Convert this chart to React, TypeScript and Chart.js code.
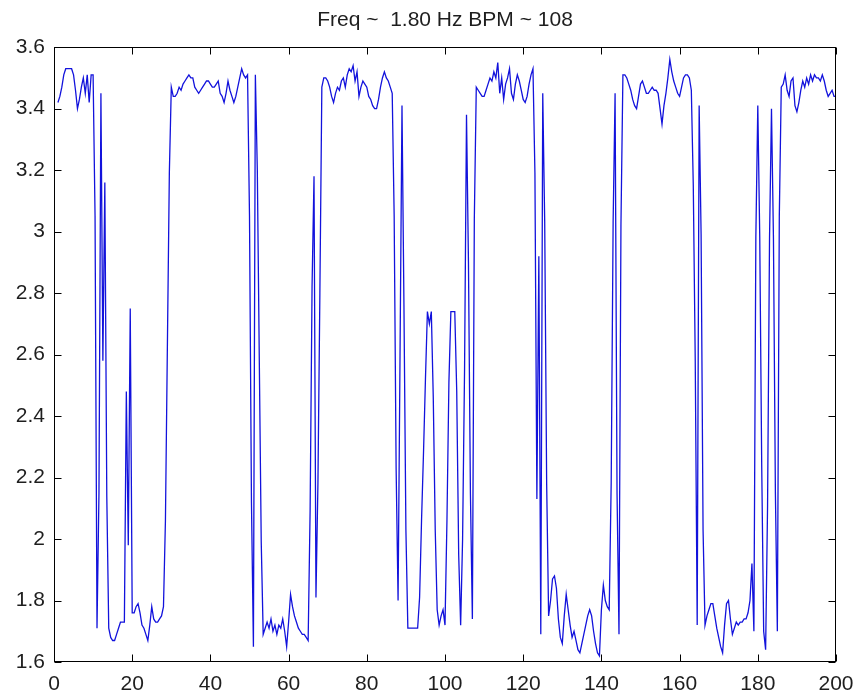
import React, { useEffect, useRef } from 'react';
import { Chart, registerables } from 'chart.js';

Chart.register(...registerables);

const TITLE = 'Freq ~  1.80 Hz BPM ~ 108';
const X_TICKS = [0, 20, 40, 60, 80, 100, 120, 140, 160, 180, 200];
const Y_TICKS = [1.6, 1.8, 2.0, 2.2, 2.4, 2.6, 2.8, 3.0, 3.2, 3.4, 3.6];

// samples start at x = 1 and are spaced 0.5 apart
const X_START = 1;
const X_STEP = 0.5;

const block1 = [
  3.42, 3.44, 3.47, 3.51, 3.53, 3.53, 3.53, 3.53, 3.51, 3.46,
  3.40, 3.43, 3.47, 3.50, 3.45, 3.51, 3.42, 3.51, 3.51, 3.05,
  1.71, 2.15, 3.45, 2.58, 3.16, 2.14, 1.71, 1.68, 1.67, 1.67,
  1.69, 1.71, 1.73, 1.73, 1.73, 2.48, 1.98, 2.75, 1.76, 1.76,
];
const block2 = [
  1.78, 1.79, 1.76, 1.72, 1.71, 1.69, 1.67, 1.72, 1.78, 1.74,
  1.73, 1.73, 1.74, 1.75, 1.78, 2.06, 2.63, 3.19, 3.47, 3.44,
  3.44, 3.45, 3.47, 3.46, 3.48, 3.49, 3.50, 3.51, 3.50, 3.50,
  3.47, 3.46, 3.45, 3.46, 3.47, 3.48, 3.49, 3.49, 3.48, 3.47,
];
const block3 = [
  3.47, 3.48, 3.49, 3.45, 3.44, 3.42, 3.45, 3.49, 3.46, 3.44,
  3.42, 3.44, 3.47, 3.50, 3.53, 3.51, 3.50, 3.51, 3.05, 2.12,
  1.65, 3.51, 3.20, 2.59, 1.99, 1.69, 1.71, 1.73, 1.71, 1.74,
  1.70, 1.72, 1.69, 1.72, 1.71, 1.74, 1.70, 1.65, 1.73, 1.82,
];
const block4 = [
  1.78, 1.75, 1.73, 1.71, 1.70, 1.69, 1.69, 1.68, 1.67, 2.09,
  2.82, 3.18, 1.81, 2.18, 2.80, 3.47, 3.50, 3.50, 3.49, 3.47,
  3.44, 3.42, 3.45, 3.47, 3.46, 3.49, 3.50, 3.47, 3.51, 3.53,
  3.52, 3.54, 3.49, 3.52, 3.44, 3.47, 3.49, 3.48, 3.47, 3.44,
];
const block5 = [
  3.43, 3.41, 3.40, 3.40, 3.43, 3.47, 3.50, 3.52, 3.50, 3.49,
  3.47, 3.45, 3.05, 2.23, 1.80, 2.60, 3.41, 2.76, 2.03, 1.71,
  1.71, 1.71, 1.71, 1.71, 1.71, 1.81, 2.06, 2.28, 2.52, 2.74,
  2.70, 2.74, 2.46, 2.03, 1.77, 1.72, 1.75, 1.77, 1.72, 2.06,
];
const block6 = [
  2.51, 2.74, 2.74, 2.74, 2.48, 1.95, 1.72, 2.00, 2.55, 3.38,
  2.90, 2.15, 1.74, 3.04, 3.47, 3.46, 3.45, 3.44, 3.44, 3.46,
  3.48, 3.50, 3.49, 3.52, 3.50, 3.55, 3.45, 3.50, 3.43, 3.48,
  3.50, 3.53, 3.45, 3.43, 3.48, 3.51, 3.49, 3.46, 3.43, 3.42,
];
const block7 = [
  3.44, 3.48, 3.51, 3.53, 3.19, 2.13, 2.92, 1.69, 3.45, 3.03,
  2.18, 1.75, 1.80, 1.87, 1.88, 1.84, 1.74, 1.68, 1.66, 1.75,
  1.82, 1.77, 1.72, 1.68, 1.70, 1.67, 1.64, 1.63, 1.66, 1.69,
  1.72, 1.75, 1.77, 1.75, 1.70, 1.66, 1.63, 1.62, 1.77, 1.85,
];
const block8 = [
  1.80, 1.78, 1.77, 2.18, 3.03, 3.45, 2.15, 1.69, 3.02, 3.51,
  3.51, 3.50, 3.48, 3.46, 3.43, 3.41, 3.40, 3.44, 3.48, 3.49,
  3.47, 3.45, 3.45, 3.46, 3.47, 3.46, 3.46, 3.45, 3.40, 3.35,
  3.41, 3.45, 3.50, 3.56, 3.52, 3.49, 3.47, 3.45, 3.44, 3.47,
];
const block9 = [
  3.50, 3.51, 3.51, 3.50, 3.46, 3.15, 2.58, 1.72, 3.41, 2.99,
  2.03, 1.72, 1.75, 1.77, 1.79, 1.79, 1.75, 1.71, 1.68, 1.65,
  1.63, 1.72, 1.79, 1.80, 1.74, 1.69, 1.71, 1.73, 1.72, 1.73,
  1.73, 1.74, 1.74, 1.76, 1.80, 1.92, 1.70, 2.98, 3.41, 2.98,
];
const block10 = [
  2.24, 1.70, 1.64, 2.11, 2.98, 3.40, 2.98, 2.15, 1.70, 3.05,
  3.47, 3.48, 3.51, 3.46, 3.44, 3.49, 3.50, 3.41, 3.39, 3.42,
  3.46, 3.49, 3.47, 3.50, 3.48, 3.51, 3.49, 3.51, 3.50, 3.50,
  3.49, 3.51, 3.49, 3.46, 3.44, 3.45, 3.46, 3.44, 3.44,
];

const SIGNAL = [
  ...block1, ...block2, ...block3, ...block4, ...block5,
  ...block6, ...block7, ...block8, ...block9, ...block10,
];

const FONT = "'Liberation Sans', Arial, Helvetica, sans-serif";
const TEXT_COLOR = '#1e1e1e';
const LINE_COLOR = 'rgb(18, 18, 220)';

const fmt = (v: number) => String(parseFloat(v.toFixed(1)));

const framePlugin = {
  id: 'matlabFrame',
  afterDraw(chart: any) {
    const { ctx, chartArea: a, scales } = chart;
    const L = Math.round(a.left) + 0.5;
    const R = Math.round(a.right) - 0.5;
    const T = Math.round(a.top) + 0.5;
    const B = Math.round(a.bottom) - 0.5;
    const tl = 7;
    ctx.save();
    ctx.strokeStyle = '#000';
    ctx.lineWidth = 1;
    ctx.strokeRect(L, T, R - L, B - T);
    ctx.beginPath();
    X_TICKS.forEach((v) => {
      const px = Math.round(scales.x.getPixelForValue(v)) + 0.5;
      ctx.moveTo(px, B);
      ctx.lineTo(px, B - tl);
      ctx.moveTo(px, T);
      ctx.lineTo(px, T + tl);
    });
    Y_TICKS.forEach((v) => {
      const py = Math.round(scales.y.getPixelForValue(v)) + 0.5;
      ctx.moveTo(L, py);
      ctx.lineTo(L + tl, py);
      ctx.moveTo(R, py);
      ctx.lineTo(R - tl, py);
    });
    ctx.stroke();
    ctx.restore();
  },
};

export default function App() {
  const ref = useRef<HTMLCanvasElement | null>(null);

  useEffect(() => {
    document.body.style.margin = '0';
    const canvas = ref.current;
    if (!canvas) return;
    const points = SIGNAL.map((y, i) => ({ x: X_START + i * X_STEP, y }));
    const chart = new Chart(canvas, {
      type: 'line',
      data: {
        datasets: [
          {
            data: points,
            borderColor: LINE_COLOR,
            borderWidth: 1.3,
            pointRadius: 0,
            tension: 0,
            fill: false,
          },
        ],
      },
      options: {
        animation: false,
        responsive: false,
        devicePixelRatio: 1,
        layout: { padding: { top: 0, right: 19, left: 0, bottom: 0 } },
        plugins: {
          legend: { display: false },
          tooltip: { enabled: false },
          title: {
            display: true,
            text: TITLE,
            fullSize: false,
            color: TEXT_COLOR,
            font: { family: FONT, size: 21, weight: 'normal', lineHeight: 1.2 },
            padding: { top: 8, bottom: 14 },
          },
        },
        scales: {
          x: {
            type: 'linear',
            min: 0,
            max: 200,
            grid: { display: false, drawTicks: false },
            border: { display: false },
            afterBuildTicks: (s: any) => {
              s.ticks = X_TICKS.map((v) => ({ value: v }));
            },
            afterFit: (s: any) => {
              s.height = 34;
              s.paddingLeft = 0;
              s.paddingRight = 0;
            },
            ticks: {
              color: TEXT_COLOR,
              font: { family: FONT, size: 21 },
              padding: 10,
              maxRotation: 0,
              autoSkip: false,
              callback: (v: any) => String(v),
            },
          },
          y: {
            type: 'linear',
            min: 1.6,
            max: 3.6,
            grid: { display: false, drawTicks: false },
            border: { display: false },
            afterBuildTicks: (s: any) => {
              s.ticks = Y_TICKS.map((v) => ({ value: v }));
            },
            afterFit: (s: any) => {
              s.width = 54;
              s.paddingTop = 0;
              s.paddingBottom = 0;
            },
            ticks: {
              color: TEXT_COLOR,
              font: { family: FONT, size: 21 },
              padding: 9,
              autoSkip: false,
              callback: (v: any) => fmt(Number(v)),
            },
          },
        },
      },
      plugins: [framePlugin],
    });
    return () => chart.destroy();
  }, []);

  return (
    <div style={{ position: 'absolute', left: 0, top: 0, width: 855, height: 696, background: '#fff' }}>
      <canvas ref={ref} width={855} height={696} style={{ display: 'block' }} />
    </div>
  );
}
